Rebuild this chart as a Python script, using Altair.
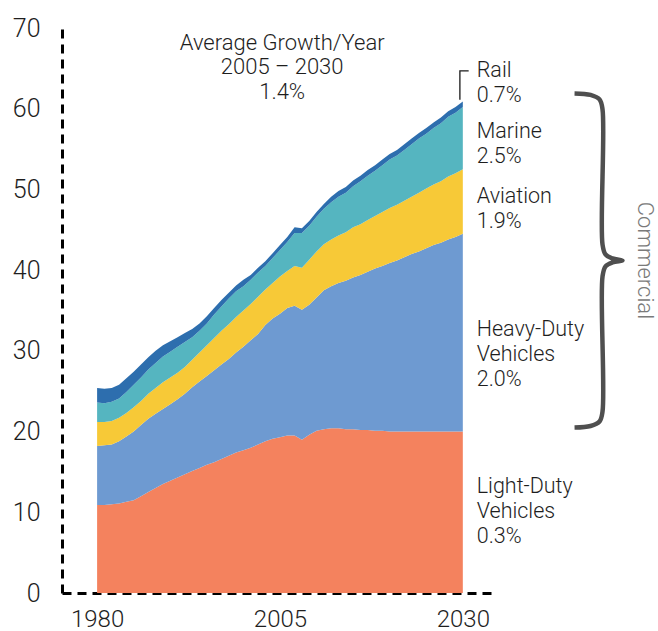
import altair as alt
import pandas as pd

# Transportation energy use by mode, 1980-2030 (stacked)
years = list(range(1980, 2031))

light_duty = [
    10.9, 10.9, 11.0, 11.1, 11.3, 11.5, 12.0, 12.5, 13.0, 13.5,
    13.9, 14.3, 14.7, 15.1, 15.5, 15.9, 16.2, 16.6, 17.0, 17.4,
    17.7, 18.0, 18.4, 18.8, 19.1, 19.3, 19.5, 19.5, 19.0, 19.6,
    20.1, 20.3, 20.4, 20.4, 20.3, 20.3, 20.2, 20.2, 20.1, 20.1,
    20.0, 20.0, 20.0, 20.0, 20.0, 20.0, 20.0, 20.0, 20.0, 20.0, 20.0,
]
heavy_duty = [
    7.3, 7.4, 7.4, 7.7, 8.1, 8.5, 8.8, 9.1, 9.2, 9.3,
    9.5, 9.7, 10.0, 10.4, 10.7, 11.0, 11.4, 11.7, 12.0, 12.4,
    12.8, 13.3, 13.7, 14.4, 14.9, 15.3, 15.8, 16.1, 16.1, 16.1,
    16.5, 17.2, 17.6, 18.0, 18.4, 18.8, 19.2, 19.6, 20.1, 20.4,
    20.9, 21.2, 21.6, 22.0, 22.3, 22.7, 23.1, 23.4, 23.8, 24.1, 24.5,
]
aviation = [
    3.0, 2.9, 2.9, 2.9, 2.9, 3.0, 3.0, 3.1, 3.2, 3.3,
    3.3, 3.3, 3.3, 3.4, 3.6, 3.8, 4.0, 4.2, 4.3, 4.4,
    4.5, 4.5, 4.6, 4.4, 4.4, 4.6, 4.6, 4.9, 5.2, 5.6,
    5.7, 5.7, 5.8, 5.9, 6.0, 6.2, 6.3, 6.4, 6.5, 6.7,
    6.8, 6.9, 7.0, 7.1, 7.3, 7.4, 7.5, 7.6, 7.8, 7.9, 8.0,
]
marine = [
    2.4, 2.3, 2.4, 2.4, 2.6, 2.8, 2.9, 3.0, 3.1, 3.2,
    3.2, 3.2, 3.1, 2.8, 2.7, 2.7, 2.9, 3.0, 3.2, 3.2,
    3.0, 3.0, 3.0, 2.9, 3.1, 3.3, 3.6, 4.1, 4.3, 4.2,
    4.3, 4.4, 4.6, 4.8, 4.9, 5.1, 5.3, 5.5, 5.6, 5.8,
    6.0, 6.1, 6.3, 6.5, 6.7, 6.8, 7.0, 7.2, 7.4, 7.5, 7.7,
]
rail = [
    1.8, 1.8, 1.7, 1.7, 1.7, 1.6, 1.6, 1.5, 1.5, 1.4,
    1.3, 1.2, 1.1, 1.0, 0.9, 0.9, 0.8, 0.8, 0.7, 0.7,
    0.8, 0.6, 0.6, 0.6, 0.6, 0.6, 0.6, 0.7, 0.6, 0.6,
    0.6, 0.6, 0.7, 0.7, 0.7, 0.7, 0.7, 0.7, 0.7, 0.7,
    0.7, 0.7, 0.7, 0.7, 0.7, 0.7, 0.7, 0.7, 0.7, 0.7, 0.7,
]

series_names = ["Light-Duty Vehicles", "Heavy-Duty Vehicles", "Aviation", "Marine", "Rail"]
series_values = [light_duty, heavy_duty, aviation, marine, rail]
series_colors = ["#F4825E", "#6E9AD1", "#F7C937", "#55B5C0", "#2D6EAE"]

# Label text for each mode and its average growth per year, 2005-2030
label_names = ["Light-Duty\nVehicles", "Heavy-Duty\nVehicles", "Aviation", "Marine", "Rail"]
growth_rates = ["0.3%", "2.0%", "1.9%", "2.5%", "0.7%"]
total_growth = "1.4%"
growth_period = "2005 \u2013 2030"

x_ticks = [1980, 2005, 2030]
y_ticks = list(range(0, 71, 10))

FONT = "Roboto"
WEIGHT = 300
TEXT_COLOR = "#1e1e1e"

rows = []
for k, (name, vals) in enumerate(zip(series_names, series_values)):
    for yr, v in zip(years, vals):
        rows.append({"year": yr, "value": v, "mode": name, "stack_order": k})
df = pd.DataFrame(rows)

x_scale = alt.Scale(domain=[1975.2, 2034.4], nice=False, zero=False)
y_scale = alt.Scale(domain=[0, 70], nice=False)

axis_common = dict(
    title=None, ticks=False, grid=False,
    domainColor="#000000", domainWidth=3, domainDash=[9, 6],
    labelFont=FONT, labelFontWeight=WEIGHT, labelColor=TEXT_COLOR,
)
x_axis = alt.Axis(values=x_ticks, format="d", labelPadding=14, labelFontSize=24,
                  labelOverlap=False, **axis_common)
y_axis = alt.Axis(values=y_ticks, labelPadding=22, labelFontSize=25, **axis_common)


def x_enc():
    return alt.X("year:Q", scale=x_scale, axis=x_axis, title=None)


def y_enc(stack=None):
    if stack:
        return alt.Y("value:Q", scale=y_scale, axis=y_axis, title=None, stack=stack)
    return alt.Y("value:Q", scale=y_scale, axis=y_axis, title=None, stack=None)


areas = alt.Chart(df).mark_area(opacity=1).encode(
    x=x_enc(),
    y=y_enc("zero"),
    color=alt.Color("mode:N", scale=alt.Scale(domain=series_names, range=series_colors),
                    legend=None),
    order=alt.Order("stack_order:Q", sort="ascending"),
)

# End-of-period stack heights drive the annotations on the right
last_ldv = light_duty[-1]
last_total = sum(s[-1] for s in series_values)

# Right-hand labels, one block per mode (anchored at the first line)
label_x = 2031.9
label_y = [13.1, 32.6, 49.1, 57.1, 64.7]
label_df = pd.DataFrame({
    "year": [label_x] * len(label_names),
    "value": label_y,
    "label": [f"{n}\n{g}" for n, g in zip(label_names, growth_rates)],
})
labels = alt.Chart(label_df).mark_text(
    align="left", baseline="middle", lineBreak="\n", lineHeight=25,
    font=FONT, fontWeight=WEIGHT, fontSize=21.5, color=TEXT_COLOR,
).encode(x=x_enc(), y=y_enc(), text="label:N")

# Headline growth note centred over 2005
head_df = pd.DataFrame({
    "year": [2005.3], "value": [68.2],
    "label": [f"Average Growth/Year\n{growth_period}\n{total_growth}"],
})
headline = alt.Chart(head_df).mark_text(
    align="center", baseline="middle", lineBreak="\n", lineHeight=24.5,
    font=FONT, fontWeight=WEIGHT, fontSize=22, color=TEXT_COLOR,
).encode(x=x_enc(), y=y_enc(), text="label:N")

# Small leader from the top of the stack to the Rail label
leader_df = pd.DataFrame({
    "year": [2029.6, 2029.6, 2030.8],
    "value": [last_total + 0.2, last_total + 3.8, last_total + 3.8],
    "i": [0, 1, 2],
})
leader = alt.Chart(leader_df).mark_line(color="#1a1a1a", strokeWidth=1.3).encode(
    x=x_enc(), y=y_enc(), order="i:Q",
)

# Curly brace spanning the commercial modes at 2030
PX_PER_YEAR = 7.32
PX_PER_UNIT = 8.07
brace_top = last_total + 1.0
brace_bottom = last_ldv + 0.5
brace_mid = (brace_top + brace_bottom) / 2
stem_year = 2049.1
brace_shape = [
    (-28, 0, brace_top), (-12, 1.5, brace_top), (-3, 6, brace_top), (0, 16, brace_top),
    (0, -16, brace_mid), (3, -6, brace_mid), (10, -2, brace_mid), (20, 0, brace_mid),
    (10, 2, brace_mid), (3, 6, brace_mid), (0, 16, brace_mid),
    (0, -16, brace_bottom), (-3, -6, brace_bottom), (-12, -1.5, brace_bottom), (-28, 0, brace_bottom),
]
brace_df = pd.DataFrame({
    "year": [stem_year + dx / PX_PER_YEAR for dx, _, _ in brace_shape],
    "value": [base - dy / PX_PER_UNIT for _, dy, base in brace_shape],
    "i": list(range(len(brace_shape))),
})
brace = alt.Chart(brace_df).mark_line(
    color="#4f4f4f", strokeWidth=4.5, interpolate="catmull-rom", strokeCap="butt",
).encode(x=x_enc(), y=y_enc(), order="i:Q")

commercial_df = pd.DataFrame({
    "year": [stem_year + 43 / PX_PER_YEAR], "value": [brace_mid], "label": ["Commercial"],
})
commercial = alt.Chart(commercial_df).mark_text(
    angle=90, align="center", baseline="middle",
    font=FONT, fontWeight=WEIGHT, fontSize=22, color="#7a7a7a",
).encode(x=x_enc(), y=y_enc(), text="label:N")

chart = alt.layer(areas, leader, brace, labels, headline, commercial).properties(
    width=433,
    height=565,
    padding={"left": 62, "top": 28, "right": 163, "bottom": 38},
    autosize=alt.AutoSizeParams(type="none"),
    background="white",
).configure_view(stroke=None)

chart.save("out.html", embed_options={"renderer": "svg", "actions": False})
